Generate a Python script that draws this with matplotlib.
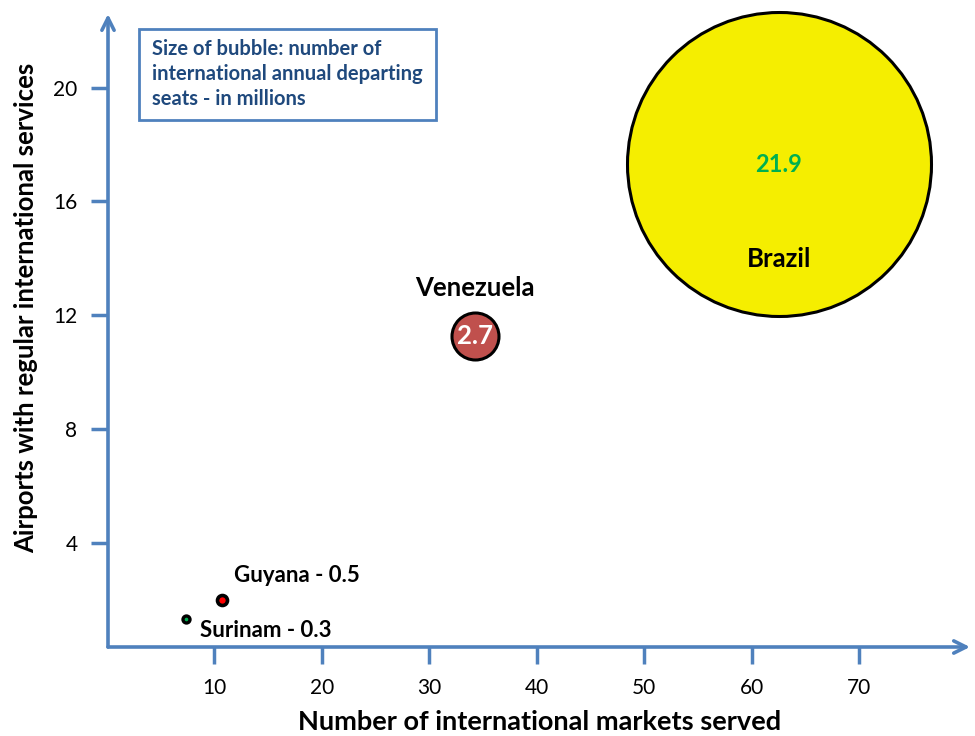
import matplotlib
matplotlib.use("Agg")
import matplotlib.pyplot as plt
from matplotlib.patches import Rectangle

plt.rcParams['font.family'] = ['Lato', 'DejaVu Sans']

# ---- data ----
countries = ["Brazil", "Venezuela", "Guyana", "Surinam"]
markets = [62.5, 34.2, 10.7, 7.4]          # x: international markets served
airports = [17.3, 11.25, 2.0, 1.3]          # y: airports with regular intl services
seats = [21.9, 2.7, 0.5, 0.3]               # bubble: intl annual departing seats (millions)
x_ticks = [10, 20, 30, 40, 50, 60, 70]
y_ticks = [4, 8, 12, 16, 20]

# ---- styles ----
fills = ["#F5EE00", "#C0504D", "#FF0000", "#00B050"]
diam_px = [304, 47, 10, 7]                  # drawn bubble diameters (pixels)
edge_w = [2.2, 2.2, 2.6, 2.4]
axis_col = "#4F81BD"
DPI = 100

fig = plt.figure(figsize=(9.75, 7.36), dpi=DPI)
W, H = 975, 736
ax = fig.add_axes([108 / W, (736 - 647) / H, (970 - 108) / W, (647 - 14) / H])
ax.set_xlim(0.1, 80.3)
ax.set_ylim(0.33, 22.59)

sizes = [(d * 72 / DPI) ** 2 for d in diam_px]
for i in range(len(countries)):
    ax.scatter(markets[i], airports[i], s=sizes[i], c=fills[i],
               edgecolors="black", linewidths=edge_w[i], zorder=3, clip_on=False)

# labels
ax.annotate(f"{seats[0]}", (markets[0], airports[0]), ha="center", va="center",
            fontsize=17, fontweight="bold", color="#00B050", zorder=4)
ax.annotate(countries[0], (markets[0], airports[0]), xytext=(0, -68), textcoords="offset points",
            ha="center", va="center", fontsize=18.5, fontweight="bold", color="black", zorder=4)
ax.annotate(f"{seats[1]}", (markets[1], airports[1]), ha="center", va="center",
            fontsize=18.5, fontweight="bold", color="white", zorder=4)
ax.annotate(countries[1], (markets[1], airports[1]), xytext=(0, 35), textcoords="offset points",
            ha="center", va="center", fontsize=18.5, fontweight="bold", color="black", zorder=4)
ax.annotate(f"{countries[2]} - {seats[2]}", (markets[2], airports[2]), xytext=(9, 17),
            textcoords="offset points", ha="left", va="center", fontsize=16,
            fontweight="bold", color="black", zorder=4)
ax.annotate(f"{countries[3]} - {seats[3]}", (markets[3], airports[3]), xytext=(10, -8),
            textcoords="offset points", ha="left", va="center", fontsize=16,
            fontweight="bold", color="black", zorder=4)

# axes styling
for s in ax.spines.values():
    s.set_visible(False)
ax.annotate("", xy=(1.0, 0), xytext=(0, 0), xycoords="axes fraction",
            arrowprops=dict(arrowstyle="->", color=axis_col, lw=2.6, mutation_scale=22,
                            shrinkA=0, shrinkB=0))
ax.annotate("", xy=(0, 1.0), xytext=(0, 0), xycoords="axes fraction",
            arrowprops=dict(arrowstyle="->", color=axis_col, lw=2.6, mutation_scale=22,
                            shrinkA=0, shrinkB=0))
ax.set_xticks(x_ticks)
ax.set_yticks(y_ticks)
ax.set_xticklabels([str(t) for t in x_ticks])
ax.set_yticklabels([str(t) for t in y_ticks])
ax.tick_params(direction="out", length=12, width=2.5, color=axis_col,
               labelsize=15, labelcolor="black", pad=10)

xl = ax.set_xlabel("Number of international markets served", fontsize=19.5,
                   fontweight="bold")
xl.set_va("center")
ax.xaxis.set_label_coords((540 - 108) / 862, -(722 - 647) / 633)
yl = ax.set_ylabel("Airports with regular international services", fontsize=18.5,
                   fontweight="bold")
yl.set_va("center")
ax.yaxis.set_label_coords((26 - 108) / 862, (647 - 308) / 633)

# info box
rect = Rectangle((139 / W, 1 - 120 / H), (436 - 139) / W, (120 - 29) / H,
                 transform=fig.transFigure, fill=True, fc="white", ec=axis_col, lw=2, zorder=5)
fig.patches.append(rect)
fig.text(152 / W, 1 - 74 / H,
         "Size of bubble: number of\ninternational annual departing\nseats - in millions",
         ha="left", va="center", fontsize=14.5, fontweight="bold", color="#1F497D",
         linespacing=1.3, zorder=6)

fig.savefig("out.png", dpi=DPI)
